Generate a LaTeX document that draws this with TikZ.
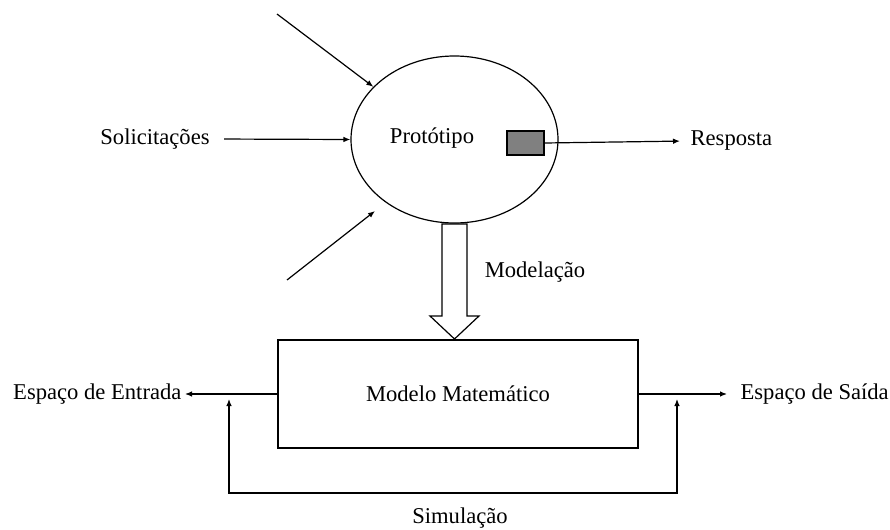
\documentclass[tikz,border=0pt]{standalone}
\usepackage{fontspec}
\setmainfont{Liberation Serif}
\usetikzlibrary{shapes.geometric,arrows.meta}
\tikzset{
  >={Latex[length=3.5pt,width=2.8pt]},
  txt/.style={inner sep=1.5pt, font=\fontsize{11.3}{13}\selectfont},
}
\begin{document}
\begin{tikzpicture}[x=0.5pt,y=-0.5pt,line width=0.6pt]
      \useasboundingbox (0,0) rectangle (890,530);

      % Prototype
      \node[ellipse, draw, minimum width=103.5pt, minimum height=83.5pt, inner sep=0] (proto) at (454.5,139.5) {};
      \node[txt] (protolbl) at (432,138) {Protótipo};
      \node[draw, fill=gray, minimum width=18.5pt, minimum height=12pt, inner sep=0] (sensor) at (525.5,143) {};

      % Loads
      \node[txt] (solic) at (155,139) {Solicitações};
      \coordinate (loadA) at (277,14);
      \coordinate (loadB) at (287,280);
      \coordinate (loadBtip) at (375,211);
      \draw[->] (loadA) -- (proto.147);
      \draw[->, shorten <=5.5pt] (solic.east) -- (proto.west);
      \draw[->] (loadB) -- (loadBtip);

      % Response
      \node[txt, anchor=west] (resp) at (687,141) {Resposta};
      \draw[->, shorten >=3.5pt] (sensor.east) -- (resp.west);

      % Modelling
      \draw (442,224) -- (442,316) -- (430,316) -- (454.5,339) -- (479,316) -- (467,316) -- (467,224) -- cycle;
      \node[txt] (modlbl) at (535,272) {Modelação};

      % Model
      \node[txt, draw, minimum width=180pt, minimum height=54pt] (model) at (458,394) {Modelo Matemático};
      \node[txt, anchor=east] (inspace) at (185,394) {Espaço de Entrada};
      \node[txt, anchor=west] (outspace) at (737,394) {Espaço de Saída};
      \draw[->] (model.west) -- (inspace.east);
      \draw[->, shorten >=5pt] (model.east) -- (outspace.west);

      % Simulation
      \coordinate (simL) at (229,399);
      \coordinate (simR) at (677,399);
      \draw[<->] (simL) -- ++(0,94) -| (simR);
      \node[txt] (simlbl) at (460,518) {Simulação};

\end{tikzpicture}
\end{document}
